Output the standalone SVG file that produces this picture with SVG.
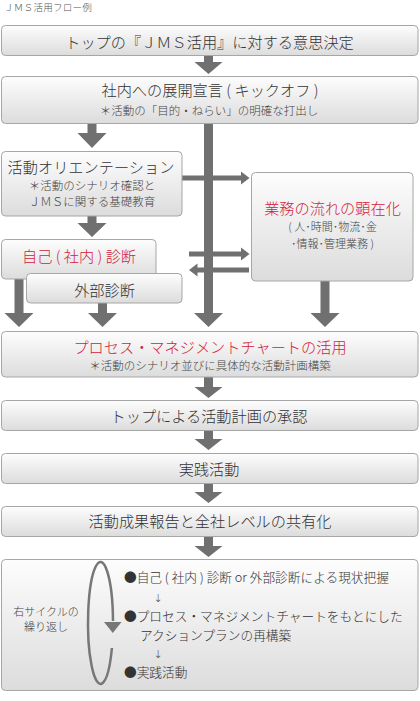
<svg xmlns="http://www.w3.org/2000/svg" width="420" height="701" viewBox="0 0 420 701">
<defs>
<linearGradient id="g" x1="0" y1="0" x2="0" y2="1">
<stop offset="0" stop-color="#fdfdfd"/>
<stop offset="1" stop-color="#dcdcdc"/>
</linearGradient>
<style>
text{font-family:"Noto Sans CJK JP","Noto Sans CJK SC",sans-serif;fill:#333;font-weight:300;}
.box{fill:url(#g);stroke:#a6a6a6;stroke-width:1;}
.m{font-size:15.2px;text-anchor:middle;}
.s{font-size:11.5px;text-anchor:middle;fill:#444;}
.red{fill:#d4213b;}
.arr{fill:#707070;}
.b{font-size:12.7px;fill:#333;}
.dn{font-family:"DejaVu Sans",sans-serif;font-size:11px;fill:#444;text-anchor:middle;}
</style>
</defs>
<rect width="420" height="701" fill="#fff"/>
<text x="4" y="10.5" style="font-size:9.6px;fill:#555;letter-spacing:0.2px">ＪＭＳ活用フロー例</text>

<g id="connectors">
<polygon class="arr" points="204,55 213,55 213,62 222.5,62 208.5,74 194.5,62 204,62"/>
<polygon class="arr" points="87.5,123 96.5,123 96.5,133 106.5,133 92,148 77.5,133 87.5,133"/>
<polygon class="arr" points="87.5,216 96.5,216 96.5,223 106.5,223 92,237 77.5,223 87.5,223"/>
<polygon class="arr" points="204,123 213,123 213,313 223,313 208.5,327 194,313 204,313"/>
<polygon class="arr" points="182,175.5 241,175.5 241,171.5 249.5,178 241,184.5 241,180.5 182,180.5"/>
<polygon class="arr" points="189,251.5 241,251.5 241,247.5 249.5,254 241,260.5 241,256.5 189,256.5"/>
<polygon class="arr" points="249,267.5 197.5,267.5 197.5,263.5 189,270 197.5,276.5 197.5,272.5 249,272.5"/>
<polygon class="arr" points="14.5,279 23.5,279 23.5,313 33.5,313 19,327 4.5,313 14.5,313"/>
<polygon class="arr" points="98,303 107,303 107,313 117,313 102.5,327 88,313 98,313"/>
<polygon class="arr" points="320.5,281 329.5,281 329.5,313 339.5,313 325,327 310.5,313 320.5,313"/>
<polygon class="arr" points="204,377 213,377 213,387 222.5,387 208.5,398 194.5,387 204,387"/>
<polygon class="arr" points="204,431 213,431 213,439 222.5,439 208.5,450 194.5,439 204,439"/>
<polygon class="arr" points="204,483.5 213,483.5 213,492 222.5,492 208.5,503 194.5,492 204,492"/>
<polygon class="arr" points="204,537 213,537 213,546 222.5,546 208.5,557 194.5,546 204,546"/>
</g>

<g id="n1">
<rect class="box" x="1.5" y="25.5" width="416.5" height="30" rx="4"/>
<text class="m" x="209.5" y="47.7">トップの『ＪＭＳ活用』に対する意思決定</text>
</g>
<g id="n2">
<rect class="box" x="1.5" y="76.5" width="416.5" height="47" rx="4"/>
<text class="m" x="210" y="95.7">社内への展開宣言 ( キックオフ )</text>
<text class="s" x="209" y="115.4">＊活動の「目的・ねらい」の明確な打出し</text>
</g>
<g id="n3">
<rect class="box" x="1.5" y="151.5" width="180.5" height="64.5" rx="4"/>
<text class="m" x="91" y="172.7">活動オリエンテーション</text>
<text class="s" x="92" y="190.4">＊活動のシナリオ確認と</text>
<text class="s" x="92" y="206.4">ＪＭＳに関する基礎教育</text>
</g>
<g id="n4">
<rect class="box" x="251.5" y="172.5" width="161.5" height="108.5" rx="4"/>
<text class="m red" x="332.5" y="213.5">業務の流れの顕在化</text>
<text class="s" x="332.5" y="231.3" style="font-size:11px">( 人･時間･物流･金</text>
<text class="s" x="332.5" y="248" style="font-size:11px">･情報･管理業務 )</text>
</g>
<g id="n5">
<rect class="box" x="1.5" y="239.5" width="154.5" height="39.5" rx="4"/>
<text class="m red" x="79" y="261.7">自己 ( 社内 ) 診断</text>
</g>
<g id="n6">
<rect class="box" x="26.5" y="273.5" width="155.5" height="29.5" rx="4"/>
<text class="m" x="104.5" y="295.7">外部診断</text>
</g>
<g id="n7">
<rect class="box" x="1.5" y="331.5" width="416.5" height="45.5" rx="4"/>
<text class="m red" x="210" y="352.7">プロセス・マネジメントチャートの活用</text>
<text class="s" x="210" y="370.4">＊活動のシナリオ並びに具体的な活動計画構築</text>
</g>
<g id="n8">
<rect class="box" x="1.5" y="400.5" width="416.5" height="30" rx="4"/>
<text class="m" x="209" y="422.2">トップによる活動計画の承認</text>
</g>
<g id="n9">
<rect class="box" x="1.5" y="453.5" width="416.5" height="30" rx="4"/>
<text class="m" x="209" y="475.2">実践活動</text>
</g>
<g id="n10">
<rect class="box" x="1.5" y="506.5" width="416.5" height="30" rx="4"/>
<text class="m" x="210" y="527.4">活動成果報告と全社レベルの共有化</text>
</g>
<g id="n11">
<rect class="box" x="1.5" y="559.5" width="416.5" height="131" rx="4"/>
<text x="46" y="616" style="font-size:11px;text-anchor:middle;fill:#444">右サイクルの</text>
<text x="46" y="631.2" style="font-size:11px;text-anchor:middle;fill:#444">繰り返し</text>
<path d="M 111.9 648 A 12.5 61 0 1 1 113 621" fill="none" stroke="#777" stroke-width="2.5"/>
<polygon points="104,622 121.5,622 112.8,633" fill="#777"/>
<text class="b" x="124" y="581.5">●自己 ( 社内 ) 診断 or 外部診断による現状把握</text>
<text class="dn" x="158" y="601.5">↓</text>
<text class="b" x="124" y="620.8">●プロセス・マネジメントチャートをもとにした</text>
<text class="b" x="140" y="639.8">アクションプランの再構築</text>
<text class="dn" x="158" y="657.5">↓</text>
<text class="b" x="124" y="676.8">●実践活動</text>
</g>
</svg>
